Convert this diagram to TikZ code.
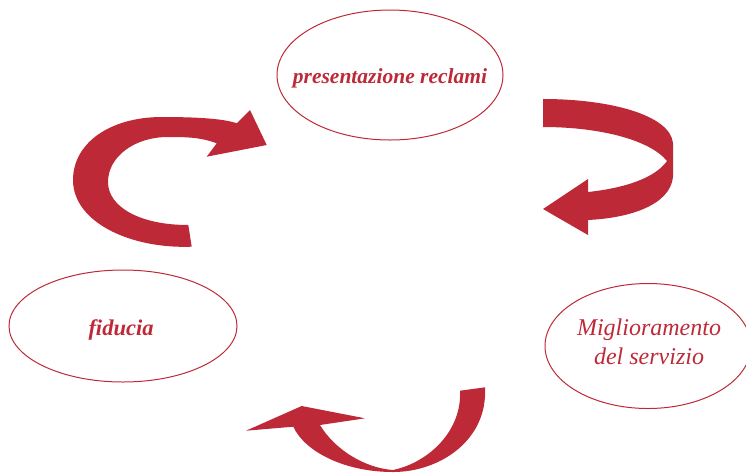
\documentclass[tikz,border=0pt]{standalone}
\usepackage{fontspec}
\setmainfont{Liberation Serif}
\usetikzlibrary{shapes.geometric}
\definecolor{cyclered}{RGB}{190,41,56}

\begin{document}
\begin{tikzpicture}[x=1pt,y=-1pt,
    stage/.style={draw=cyclered, line width=1pt, ellipse, inner sep=0pt},
    caption/.style={text=cyclered, align=center, inner sep=0pt},
    ribbon/.style={fill=cyclered, draw=none}]
			\useasboundingbox (0,0) rectangle (746,475);

			% the three stages
			\node[stage, minimum width=226, minimum height=130] (reclami) at (390,75) {};
			\node[stage, minimum width=228, minimum height=112] (fiducia) at (123,326) {};
			\node[stage, minimum width=206, minimum height=125] (servizio) at (648,346) {};

			% stage labels
			\node[caption, font=\fontsize{21.5}{24}\selectfont\bfseries\itshape]
				(reclamitext) at (390,78) {presentazione reclami};
			\node[caption, font=\fontsize{22.5}{24}\selectfont\bfseries\itshape]
				(fiduciatext) at (121,330) {fiducia};
			\node[caption, font=\fontsize{24}{29}\selectfont\itshape]
				(serviziotext) at (649,342) {Miglioramento\\ del servizio};

			% arrow from fiducia up to reclami
			\fill[ribbon] (191.7,246.7) .. controls (130,249) and (73,222) .. (73,180)
				.. controls (73,143) and (110,117) .. (162,117)
				.. controls (200,117) and (225,119) .. (236.7,123.3)
				-- (250,110) -- (266.7,145) -- (206.7,156.7) -- (216.7,143.3)
				.. controls (200,137) and (185,137) .. (168,137)
				.. controls (134,137) and (108,157) .. (108,182)
				.. controls (108,207) and (140,225) .. (188.3,225) -- cycle;

			% arrow from reclami down to servizio
			\fill[ribbon] (543,99) .. controls (610,99) and (670,115) .. (673,143)
				-- (673,177)
				.. controls (670,205) and (630,218) .. (588,220)
				-- (588,235) -- (543,209) -- (588,179) -- (588,192)
				.. controls (625,188) and (655,178) .. (667,161)
				.. controls (650,140) and (600,127) .. (543,127) -- cycle;

			% arrow from servizio round to fiducia
			\fill[ribbon] (460,390.7) -- (485,387.3)
				.. controls (488,440) and (440,472) .. (393,472)
				.. controls (345,472) and (305,452) .. (293.3,426.7)
				-- (246,430.7) -- (301.7,406) -- (365,418.3) -- (320,425)
				.. controls (335,450) and (365,468) .. (393,470)
				.. controls (430,462) and (462,430) .. (460,390.7) -- cycle;

		\end{tikzpicture}
\end{document}
